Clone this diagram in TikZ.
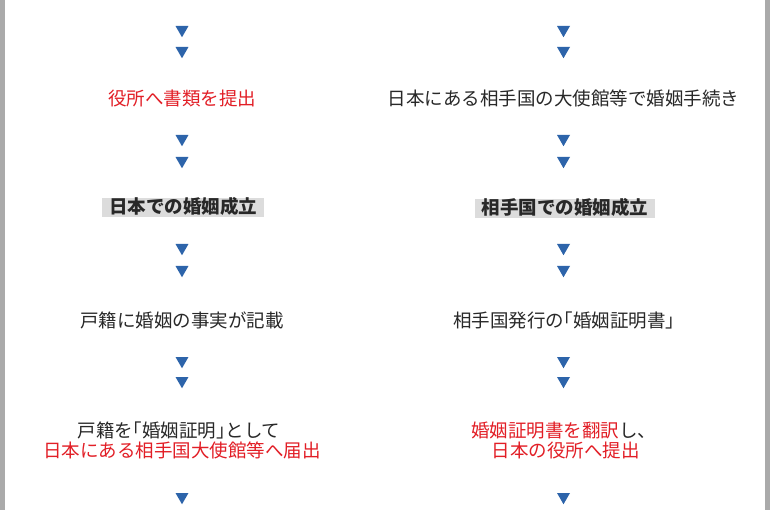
\documentclass[tikz,border=0pt]{standalone}
\usepackage{fontspec}
\setmainfont{Noto Sans CJK JP}
\usetikzlibrary{shapes.geometric}
\definecolor{triblue}{RGB}{45,100,170}
\definecolor{redtxt}{RGB}{226,30,38}
\definecolor{blacktxt}{RGB}{40,40,40}
\definecolor{framegray}{RGB}{170,170,170}
\definecolor{hlgray}{RGB}{220,220,220}
\newcommand{\lbrk}{\makebox[0.5em][r]{「}}
\newcommand{\rbrk}{\makebox[0.5em][l]{」}}
\begin{document}
\begin{tikzpicture}[x=1bp,y=-1bp,
  arrowmark/.style={regular polygon, regular polygon sides=3, shape border rotate=180,
    fill=triblue, minimum size=15bp, inner sep=0pt, outer sep=0pt},
  textnode/.style={font=\fontsize{18.5bp}{20bp}\selectfont, text=blacktxt,
    inner sep=0pt, text height=16.3bp, text depth=2.2bp},
  rednode/.style={textnode, text=redtxt},
  boldbox/.style={textnode, font=\fontsize{18.5bp}{20bp}\selectfont\bfseries,
    fill=hlgray, inner xsep=7bp, inner ysep=0pt, text height=15.5bp, text depth=3.5bp}
]
\useasboundingbox (0,0) rectangle (770,510);
\fill[white] (0,0) rectangle (770,510);
\fill[framegray] (0,0) rectangle (5,510);
\fill[framegray] (765,0) rectangle (770,510);

% left column
\node[arrowmark] (l1a) at (182,29.75) {};
\node[arrowmark] (l1b) at (182,50.75) {};
\node[rednode] (l2) at (182,98) {役所へ書類を提出};
\node[arrowmark] (l2a) at (182,138.75) {};
\node[arrowmark] (l2b) at (182,160.75) {};
\node[boldbox] (l3) at (183,208) {日本での婚姻成立};
\node[arrowmark] (l3a) at (182,247.75) {};
\node[arrowmark] (l3b) at (182,269.75) {};
\node[textnode] (l4) at (182,320) {戸籍に婚姻の事実が記載};
\node[arrowmark] (l4a) at (182,360.75) {};
\node[arrowmark] (l4b) at (182,380.75) {};
\node[textnode] (l5) at (179,430) {戸籍を\lbrk 婚姻証明\rbrk として};
\node[rednode] (l5b) at (182,450) {日本にある相手国大使館等へ届出};
\node[arrowmark] (l6a) at (182,496.75) {};

% right column
\node[arrowmark] (r1a) at (563.5,29.75) {};
\node[arrowmark] (r1b) at (563.5,50.75) {};
\node[textnode] (r2) at (563.5,98) {日本にある相手国の大使館等で婚姻手続き};
\node[arrowmark] (r2a) at (563.5,138.75) {};
\node[arrowmark] (r2b) at (563.5,160.75) {};
\node[boldbox] (r3) at (565,208.5) {相手国での婚姻成立};
\node[arrowmark] (r3a) at (563.5,247.75) {};
\node[arrowmark] (r3b) at (563.5,269.75) {};
\node[textnode] (r4) at (564,320) {相手国発行の\lbrk 婚姻証明書\rbrk};
\node[arrowmark] (r4a) at (563.5,360.75) {};
\node[arrowmark] (r4b) at (563.5,380.75) {};
\node[textnode] (r5) at (563.5,430) {\textcolor{redtxt}{婚姻証明書を翻訳}し、};
\node[rednode] (r5b) at (565.5,450) {日本の役所へ提出};
\node[arrowmark] (r6a) at (563.5,496.75) {};
\end{tikzpicture}
\end{document}
